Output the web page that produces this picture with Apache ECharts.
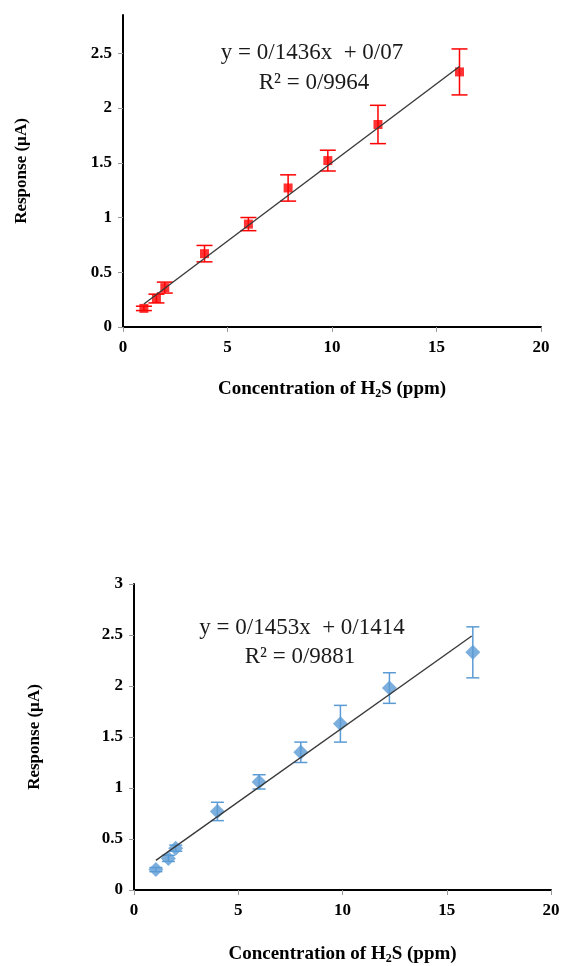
<!DOCTYPE html>
<html>
<head>
<meta charset="utf-8">
<script src="https://cdn.jsdelivr.net/npm/echarts@6/dist/echarts.min.js"></script>
<style>
html, body { margin: 0; padding: 0; background: #fff; }
#data_show { width: 563px; height: 966px; }
</style>
</head>
<body>
<div id="data_show"></div>
<script>
// top chart (red squares)
var top_x = [1, 1.6, 2, 3.9, 6, 7.9, 9.8, 12.2, 16.1];
var top_y = [0.17, 0.26, 0.36, 0.67, 0.94, 1.27, 1.52, 1.85, 2.33];
var top_err = [0.02, 0.04, 0.05, 0.075, 0.06, 0.12, 0.095, 0.175, 0.21];
var top_trend = [[1, 0.21], [16.1, 2.38]];//trendline ends
var top_y_ticks = [0, 0.5, 1, 1.5, 2, 2.5];

// bottom chart (blue diamonds)
var bottom_x = [1.05, 1.65, 2, 4, 6, 8, 9.9, 12.25, 16.25];
var bottom_y = [0.20, 0.31, 0.41, 0.77, 1.06, 1.35, 1.63, 1.98, 2.33];
var bottom_err = [0.02, 0.03, 0.03, 0.09, 0.07, 0.1, 0.18, 0.15, 0.25];
var bottom_trend = [[1.05, 0.29], [16.2, 2.49]];
var bottom_y_ticks = [0, 0.5, 1, 1.5, 2, 2.5, 3];

var top_equation = ['y = 0/1436x  + 0/07', 'R\u00b2 = 0/9964'];
var bottom_equation = ['y = 0/1453x  + 0/1414', 'R\u00b2 = 0/9881'];

var serif = '"Liberation Serif", "Times New Roman", serif';
var chart;

function pairs(xs, ys){
	var out = [];
	for(var i = 0; i < xs.length; i++){
		out.push([xs[i], ys[i]]);
	}
	return out;
}

function err_rows(xs, ys, es){
	var out = [];
	for(var i = 0; i < xs.length; i++){
		out.push([xs[i], ys[i] - es[i], ys[i] + es[i]]);
	}
	return out;
}

function error_bar(color, cap){
	return function(params, api){
		var lo = api.coord([api.value(0), api.value(1)]);
		var hi = api.coord([api.value(0), api.value(2)]);
		var st = {stroke: color, lineWidth: 1.5};
		return {
			type: 'group',
			children: [
				{type: 'line', shape: {x1: lo[0], y1: lo[1], x2: hi[0], y2: hi[1]}, style: st},
				{type: 'line', shape: {x1: hi[0] - cap, y1: hi[1], x2: hi[0] + cap, y2: hi[1]}, style: st},
				{type: 'line', shape: {x1: lo[0] - cap, y1: lo[1], x2: lo[0] + cap, y2: lo[1]}, style: st}
			]
		};
	};
}

function x_axis(grid_index, gap){
	return {
		gridIndex: grid_index,
		type: 'value',
		min: 0,
		max: 20,
		interval: 5,
		name: '{a|Concentration of H}{s|2}{a|S (ppm)}',
		nameLocation: 'middle',
		nameGap: gap,
		nameTextStyle: {
			rich: {
				a: {fontFamily: serif, fontWeight: 'bold', fontSize: 19, color: '#000', lineHeight: 22},
				s: {fontFamily: serif, fontWeight: 'bold', fontSize: 12, color: '#000', lineHeight: 22, verticalAlign: 'bottom'}
			}
		},
		axisLine: {lineStyle: {color: '#000', width: 2}},
		axisTick: {length: 5, lineStyle: {color: '#999'}},
		axisLabel: {margin: 12, fontFamily: serif, fontWeight: 'bold', fontSize: 17, color: '#000'},
		splitLine: {show: false}
	};
}

function y_axis(grid_index, max, ticks, gap){
	return {
		gridIndex: grid_index,
		type: 'value',
		min: 0,
		max: max,
		name: 'Response (\u00b5A)',
		nameLocation: 'middle',
		nameGap: gap,
		nameTextStyle: {fontFamily: serif, fontWeight: 'bold', fontSize: 17, color: '#000'},
		axisLine: {lineStyle: {color: '#000', width: 2}},
		axisTick: {length: 5, lineStyle: {color: '#999'}, customValues: ticks},
		axisLabel: {margin: 11, fontFamily: serif, fontWeight: 'bold', fontSize: 17, color: '#000', customValues: ticks},
		splitLine: {show: false}
	};
}

function equation_text(lines, cx1, y1, cx2, y2){
	var font = '23px ' + serif;
	return [
		{type: 'text', x: cx1, y: y1, style: {text: lines[0], font: font, fill: '#1a1a1a', textAlign: 'center', textVerticalAlign: 'middle'}},
		{type: 'text', x: cx2, y: y2, style: {text: lines[1], font: font, fill: '#1a1a1a', textAlign: 'center', textVerticalAlign: 'middle'}}
	];
}

function chart_calibration(){
	chart = echarts.init(document.getElementById('data_show'), null, {renderer: 'canvas'});
	var option = {
		backgroundColor: '#fff',
		animation: false,
		grid: [{
			left: 123,
			right: 22,
			top: 15,
			height: 312
		}, {
			left: 134,
			right: 12,
			top: 584,
			height: 313
		}],
		xAxis: [x_axis(0, 51), x_axis(1, 53)],
		yAxis: [
			y_axis(0, 2.85, top_y_ticks, 93),
			y_axis(1, 3, bottom_y_ticks, 91)
		],
		graphic: equation_text(top_equation, 312, 53, 314, 83).concat(
			equation_text(bottom_equation, 302, 628, 300, 657)),
		series: [
			{
				name: 'top_err',
				type: 'custom',
				xAxisIndex: 0,
				yAxisIndex: 0,
				renderItem: error_bar('#ff0000', 8),
				data: err_rows(top_x, top_y, top_err),
				z: 2
			},
			{
				name: 'top',
				type: 'scatter',
				xAxisIndex: 0,
				yAxisIndex: 0,
				symbol: 'rect',
				symbolSize: 9,
				itemStyle: {color: '#ff0000'},
				data: pairs(top_x, top_y),
				z: 3
			},
			{
				name: 'top_trend',
				type: 'line',
				xAxisIndex: 0,
				yAxisIndex: 0,
				symbol: 'none',
				lineStyle: {color: '#3a3a3a', width: 1.4},
				data: top_trend,
				z: 4
			},
			{
				name: 'bottom_err',
				type: 'custom',
				xAxisIndex: 1,
				yAxisIndex: 1,
				renderItem: error_bar('#5b9bd5', 6.5),
				data: err_rows(bottom_x, bottom_y, bottom_err),
				z: 2
			},
			{
				name: 'bottom',
				type: 'scatter',
				xAxisIndex: 1,
				yAxisIndex: 1,
				symbol: 'diamond',
				symbolSize: 15,
				itemStyle: {color: '#5b9bd5'},
				data: pairs(bottom_x, bottom_y),
				z: 3
			},
			{
				name: 'bottom_trend',
				type: 'line',
				xAxisIndex: 1,
				yAxisIndex: 1,
				symbol: 'none',
				lineStyle: {color: '#3a3a3a', width: 1.4},
				data: bottom_trend,
				z: 4
			}
		]
	};
	chart.setOption(option);
}

chart_calibration();
</script>
</body>
</html>
